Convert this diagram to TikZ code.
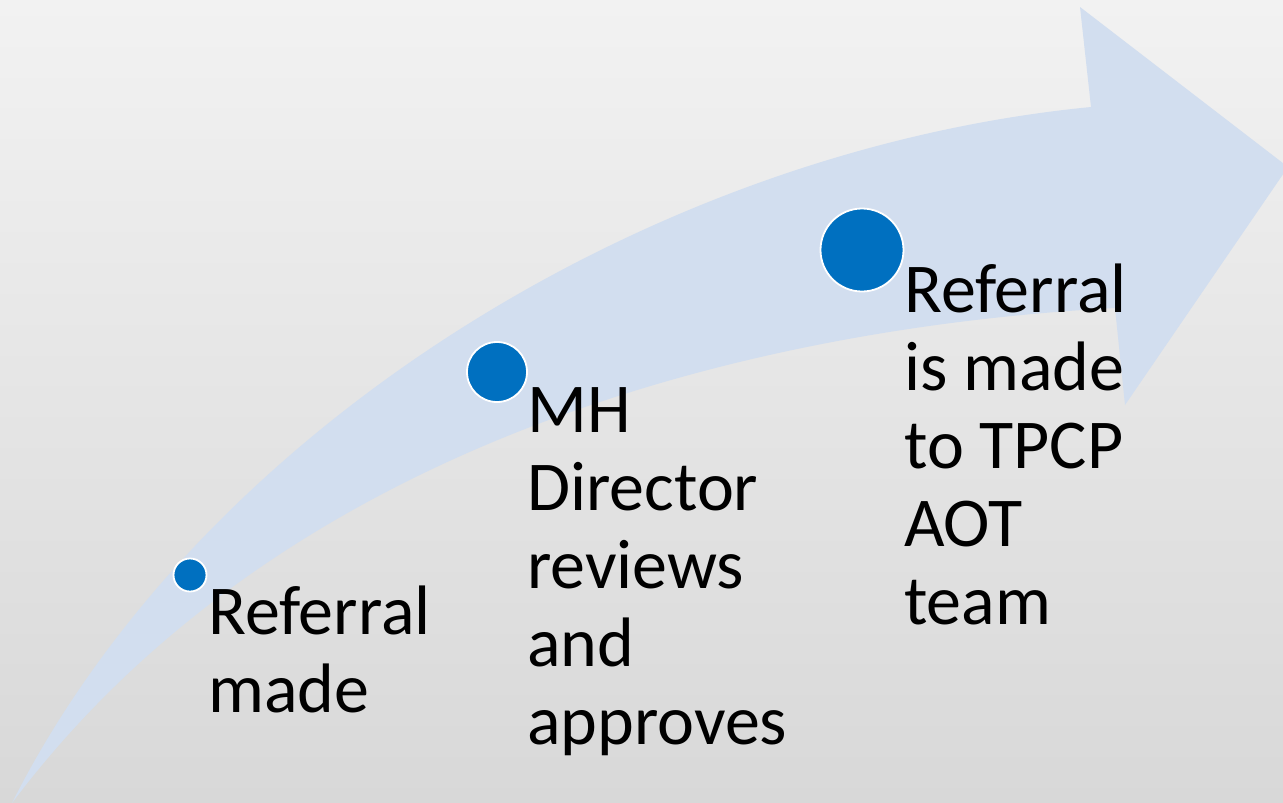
\documentclass[tikz,border=0pt]{standalone}
\usepackage{fontspec}
\setmainfont{Carlito}
\definecolor{bgtop}{RGB}{242,242,242}
\definecolor{bgbot}{RGB}{216,216,216}
\definecolor{arrowblue}{RGB}{210,222,239}
\definecolor{dotblue}{RGB}{0,112,192}
\tikzset{
  dot/.style={circle, fill=dotblue, draw=white, line width=1.8pt, inner sep=0pt},
  steplabel/.style={anchor=base west, align=left, inner sep=0pt, font=\fontsize{70}{78}\selectfont, text=black}
}
\begin{document}
\begin{tikzpicture}[x=1pt,y=-1pt]
\useasboundingbox (0,0) rectangle (1283,803);
\shade[top color=bgtop, bottom color=bgbot] (0,0) rectangle (1283,803);
\begin{scope}
\clip (0,0) rectangle (1283,803);
\fill[arrowblue] (12,803) .. controls (200,430) and (650,150) .. (1091,107)
  -- (1080,7) -- (1288,167) -- (1125,405) -- (1115,308)
  .. controls (800,325) and (300,420) .. (12,803) -- cycle;
\end{scope}
\node[dot, minimum size=33pt] (d1) at (190,575) {};
\node[dot, minimum size=60pt] (d2) at (497,372) {};
\node[dot, minimum size=83pt] (d3) at (862,250) {};
% base anchor of a multi-line node is the baseline of its last line
\node[steplabel] (t1) at (208,712) {Referral\\made};
\node[steplabel] (t2) at (527,744) {MH\\Director\\reviews\\and\\approves};
\node[steplabel] (t3) at (904,624) {Referral\\is made\\to TPCP\\AOT\\team};
\end{tikzpicture}
\end{document}
